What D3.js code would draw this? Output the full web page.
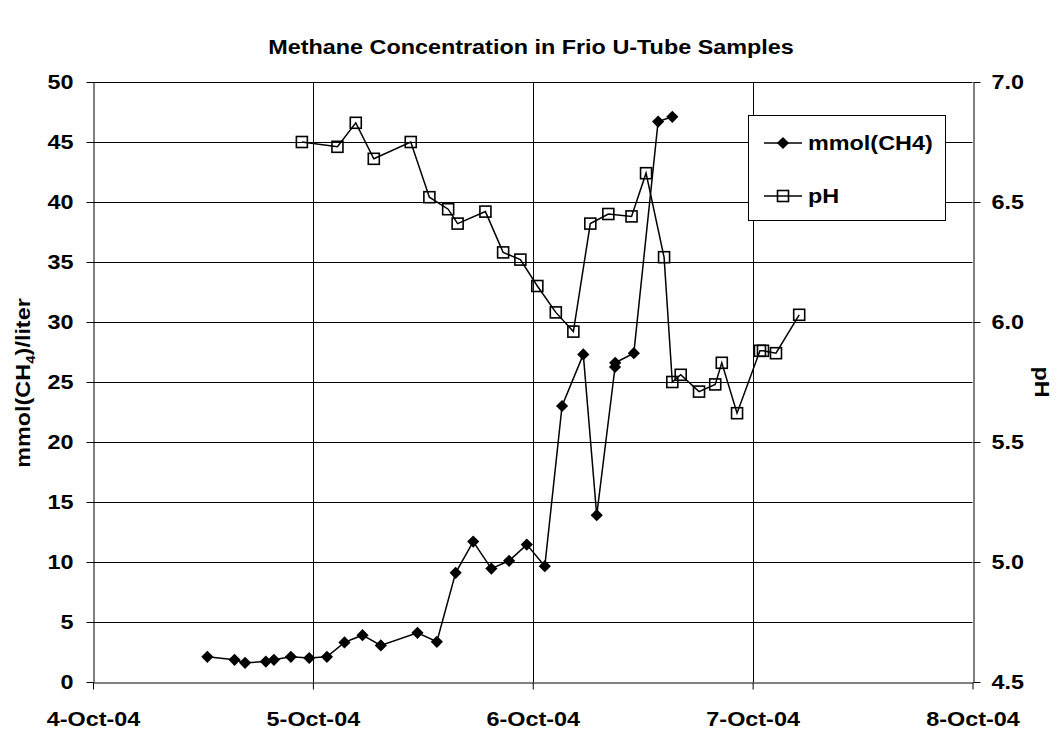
<!DOCTYPE html>
<html>
<head>
<meta charset="utf-8">
<script src="https://cdn.jsdelivr.net/npm/d3@7"></script>
<style>
  body { margin: 0; background: #fff; }
  text { font-family: Arial, "Liberation Sans", sans-serif; font-weight: bold; fill: #000; }
</style>
</head>
<body>
<script>
// methane samples: time, mmol(CH4)/liter
const ch4Times = [
  '2004-10-04 12:29', '2004-10-04 15:27', '2004-10-04 16:36', '2004-10-04 18:52',
  '2004-10-04 19:45', '2004-10-04 21:36', '2004-10-04 23:36', '2004-10-05 01:32',
  '2004-10-05 03:27', '2004-10-05 05:25', '2004-10-05 07:25', '2004-10-05 11:25',
  '2004-10-05 13:32', '2004-10-05 15:35', '2004-10-05 17:30', '2004-10-05 19:29',
  '2004-10-05 21:25', '2004-10-05 23:21', '2004-10-06 01:19', '2004-10-06 03:12',
  '2004-10-06 05:31', '2004-10-06 06:59', '2004-10-06 08:59', '2004-10-06 09:00',
  '2004-10-06 11:02', '2004-10-06 13:41', '2004-10-06 15:14'
];
const ch4Values = [
  2.1, 1.85, 1.6, 1.7,
  1.85, 2.1, 2.0, 2.1,
  3.3, 3.9, 3.05, 4.1,
  3.35, 9.1, 11.7, 9.45,
  10.1, 11.45, 9.65, 23.0,
  27.3, 13.9, 26.25, 26.6,
  27.4, 46.7, 47.1
];

// pH samples: time, pH
const phTimes = [
  '2004-10-04 22:48', '2004-10-05 02:41', '2004-10-05 04:41', '2004-10-05 06:39',
  '2004-10-05 10:41', '2004-10-05 12:43', '2004-10-05 14:46', '2004-10-05 15:48',
  '2004-10-05 18:50', '2004-10-05 20:46', '2004-10-05 22:39', '2004-10-06 00:30',
  '2004-10-06 02:31', '2004-10-06 04:26', '2004-10-06 06:17', '2004-10-06 08:15',
  '2004-10-06 10:47', '2004-10-06 12:22', '2004-10-06 14:20', '2004-10-06 15:14',
  '2004-10-06 16:09', '2004-10-06 18:09', '2004-10-06 19:55', '2004-10-06 20:38',
  '2004-10-06 22:18', '2004-10-07 00:48', '2004-10-07 01:08', '2004-10-07 02:33',
  '2004-10-07 05:05'
];
const phValues = [
  6.75, 6.73, 6.83, 6.68,
  6.75, 6.52, 6.47, 6.41,
  6.46, 6.29, 6.26, 6.15,
  6.04, 5.96, 6.41, 6.45,
  6.44, 6.62, 6.27, 5.75,
  5.78, 5.71, 5.74, 5.83,
  5.62, 5.88, 5.88, 5.87,
  6.03
];

const dayTicks = ['2004-10-04', '2004-10-05', '2004-10-06', '2004-10-07', '2004-10-08'];
const leftTicks = [0, 5, 10, 15, 20, 25, 30, 35, 40, 45, 50];
const rightTicks = [4.5, 5.0, 5.5, 6.0, 6.5, 7.0];

const title = 'Methane Concentration in Frio U-Tube Samples';

var width = 1062, height = 733;
var margin = { left: 93, right: 89.5, top: 82, bottom: 51 };
var stretch = 1.17; // the original lettering is a bit wider than Arial

var parseTime = d3.timeParse('%Y-%m-%d %H:%M');
var parseDay = d3.timeParse('%Y-%m-%d');
var fmtDay = d3.timeFormat('%-d-%b-%y');

var ch4 = ch4Times.map((t, i) => ({ t: parseTime(t), v: ch4Values[i] }));
var ph = phTimes.map((t, i) => ({ t: parseTime(t), v: phValues[i] }));
var days = dayTicks.map(parseDay);

// widen axis labels: scale glyphs horizontally, keep the anchor where it was
function widen(sel) {
  sel.each(function () {
    var t = d3.select(this);
    var x0 = +t.attr('x') || 0;
    t.attr('x', x0 / stretch).attr('transform', 'scale(' + stretch + ',1)');
  });
}

var svg = d3.select('body')
  .append('svg')
  .attr('width', width)
  .attr('height', height);

var x = d3.scaleTime()
  .domain([days[0], days[days.length - 1]])
  .range([margin.left, width - margin.right]);

var yL = d3.scaleLinear().domain([0, 50]).range([height - margin.bottom, margin.top]);
var yR = d3.scaleLinear().domain([4.5, 7]).range([height - margin.bottom, margin.top]);

// gridlines
var grid = svg.append('g').attr('stroke', '#000').attr('stroke-width', 1);
grid.selectAll('line.h')
  .data(leftTicks.slice(1))
  .join('line')
  .attr('x1', margin.left).attr('x2', width - margin.right)
  .attr('y1', d => Math.round(yL(d)) + 0.5).attr('y2', d => Math.round(yL(d)) + 0.5);
grid.selectAll('line.v')
  .data(days.slice(1, -1))
  .join('line')
  .attr('y1', margin.top).attr('y2', height - margin.bottom)
  .attr('x1', d => Math.round(x(d)) + 0.5).attr('x2', d => Math.round(x(d)) + 0.5);

// axes
var xAxis = svg.append('g')
  .attr('transform', 'translate(0,' + (Math.round(yL(0)) + 0.5) + ')')
  .call(d3.axisBottom(x).tickValues(days).tickFormat(fmtDay).tickSize(7).tickSizeOuter(0).tickPadding(22));
var leftAxis = svg.append('g')
  .attr('transform', 'translate(' + (Math.round(x(days[0])) + 0.5) + ',0)')
  .call(d3.axisLeft(yL).tickValues(leftTicks).tickSize(7).tickSizeOuter(0).tickPadding(13));
var rightAxis = svg.append('g')
  .attr('transform', 'translate(' + (Math.round(x(days[4])) + 0.5) + ',0)')
  .call(d3.axisRight(yR).tickValues(rightTicks).tickFormat(d3.format('.1f')).tickSize(7).tickSizeOuter(0).tickPadding(11));

[xAxis, leftAxis, rightAxis].forEach(function (a) {
  a.attr('font-family', null).attr('font-size', null);
  a.select('.domain').attr('stroke', '#000').attr('stroke-width', 1);
  a.selectAll('.tick line').attr('stroke', '#000');
  a.selectAll('text').style('font-size', '20px').call(widen);
});

// CH4 line and diamonds
var lineL = d3.line().x(d => x(d.t)).y(d => yL(d.v));
var lineR = d3.line().x(d => x(d.t)).y(d => yR(d.v));

svg.append('path')
  .datum(ch4)
  .attr('d', lineL)
  .attr('fill', 'none')
  .attr('stroke', '#000')
  .attr('stroke-width', 1.5);

var diamond = d3.symbol().type(d3.symbolDiamond2).size(95);
svg.append('g')
  .selectAll('path')
  .data(ch4)
  .join('path')
  .attr('d', diamond)
  .attr('transform', d => 'translate(' + x(d.t) + ',' + yL(d.v) + ')')
  .attr('fill', '#000');

// pH line and squares
svg.append('path')
  .datum(ph)
  .attr('d', lineR)
  .attr('fill', 'none')
  .attr('stroke', '#000')
  .attr('stroke-width', 1.5);

var sq = 11;
svg.append('g')
  .selectAll('rect')
  .data(ph)
  .join('rect')
  .attr('x', d => x(d.t) - sq / 2)
  .attr('y', d => yR(d.v) - sq / 2)
  .attr('width', sq)
  .attr('height', sq)
  .attr('fill', 'none')
  .attr('stroke', '#000')
  .attr('stroke-width', 1.6);

// title
svg.append('text')
  .attr('transform', 'translate(531,54) scale(' + stretch + ',1)')
  .attr('text-anchor', 'middle')
  .style('font-size', '20px')
  .text(title);

// left axis title with subscript
var lt = svg.append('text')
  .attr('transform', 'translate(30,383) rotate(-90) scale(' + stretch + ',1)')
  .attr('text-anchor', 'middle')
  .style('font-size', '20px');
lt.append('tspan').text('mmol(CH');
lt.append('tspan').attr('dy', 5).style('font-size', '13px').text('4');
lt.append('tspan').attr('dy', -5).text(')/liter');

// right axis title
svg.append('text')
  .attr('transform', 'translate(1035,382) rotate(90) scale(' + stretch + ',1)')
  .attr('text-anchor', 'middle')
  .style('font-size', '20px')
  .text('pH');

// legend
var legend = svg.append('g');
legend.append('rect')
  .attr('x', 748.5).attr('y', 115.5)
  .attr('width', 197).attr('height', 105)
  .attr('fill', '#fff')
  .attr('stroke', '#000');

var legendItems = [
  { name: 'mmol(CH4)', y: 143, kind: 'diamond' },
  { name: 'pH', y: 196, kind: 'square' }
];
var li = legend.selectAll('g.item')
  .data(legendItems)
  .join('g')
  .attr('transform', d => 'translate(0,' + d.y + ')');
li.append('line')
  .attr('x1', 764).attr('x2', 802)
  .attr('stroke', '#000').attr('stroke-width', 1.5);
li.filter(d => d.kind === 'diamond').append('path')
  .attr('d', diamond)
  .attr('transform', 'translate(783,0)')
  .attr('fill', '#000');
li.filter(d => d.kind === 'square').append('rect')
  .attr('x', 783 - sq / 2).attr('y', -sq / 2)
  .attr('width', sq).attr('height', sq)
  .attr('fill', 'none')
  .attr('stroke', '#000').attr('stroke-width', 1.6);
li.append('text')
  .attr('transform', 'translate(808,7) scale(' + stretch + ',1)')
  .style('font-size', '20px')
  .text(d => d.name);
</script>
</body>
</html>
